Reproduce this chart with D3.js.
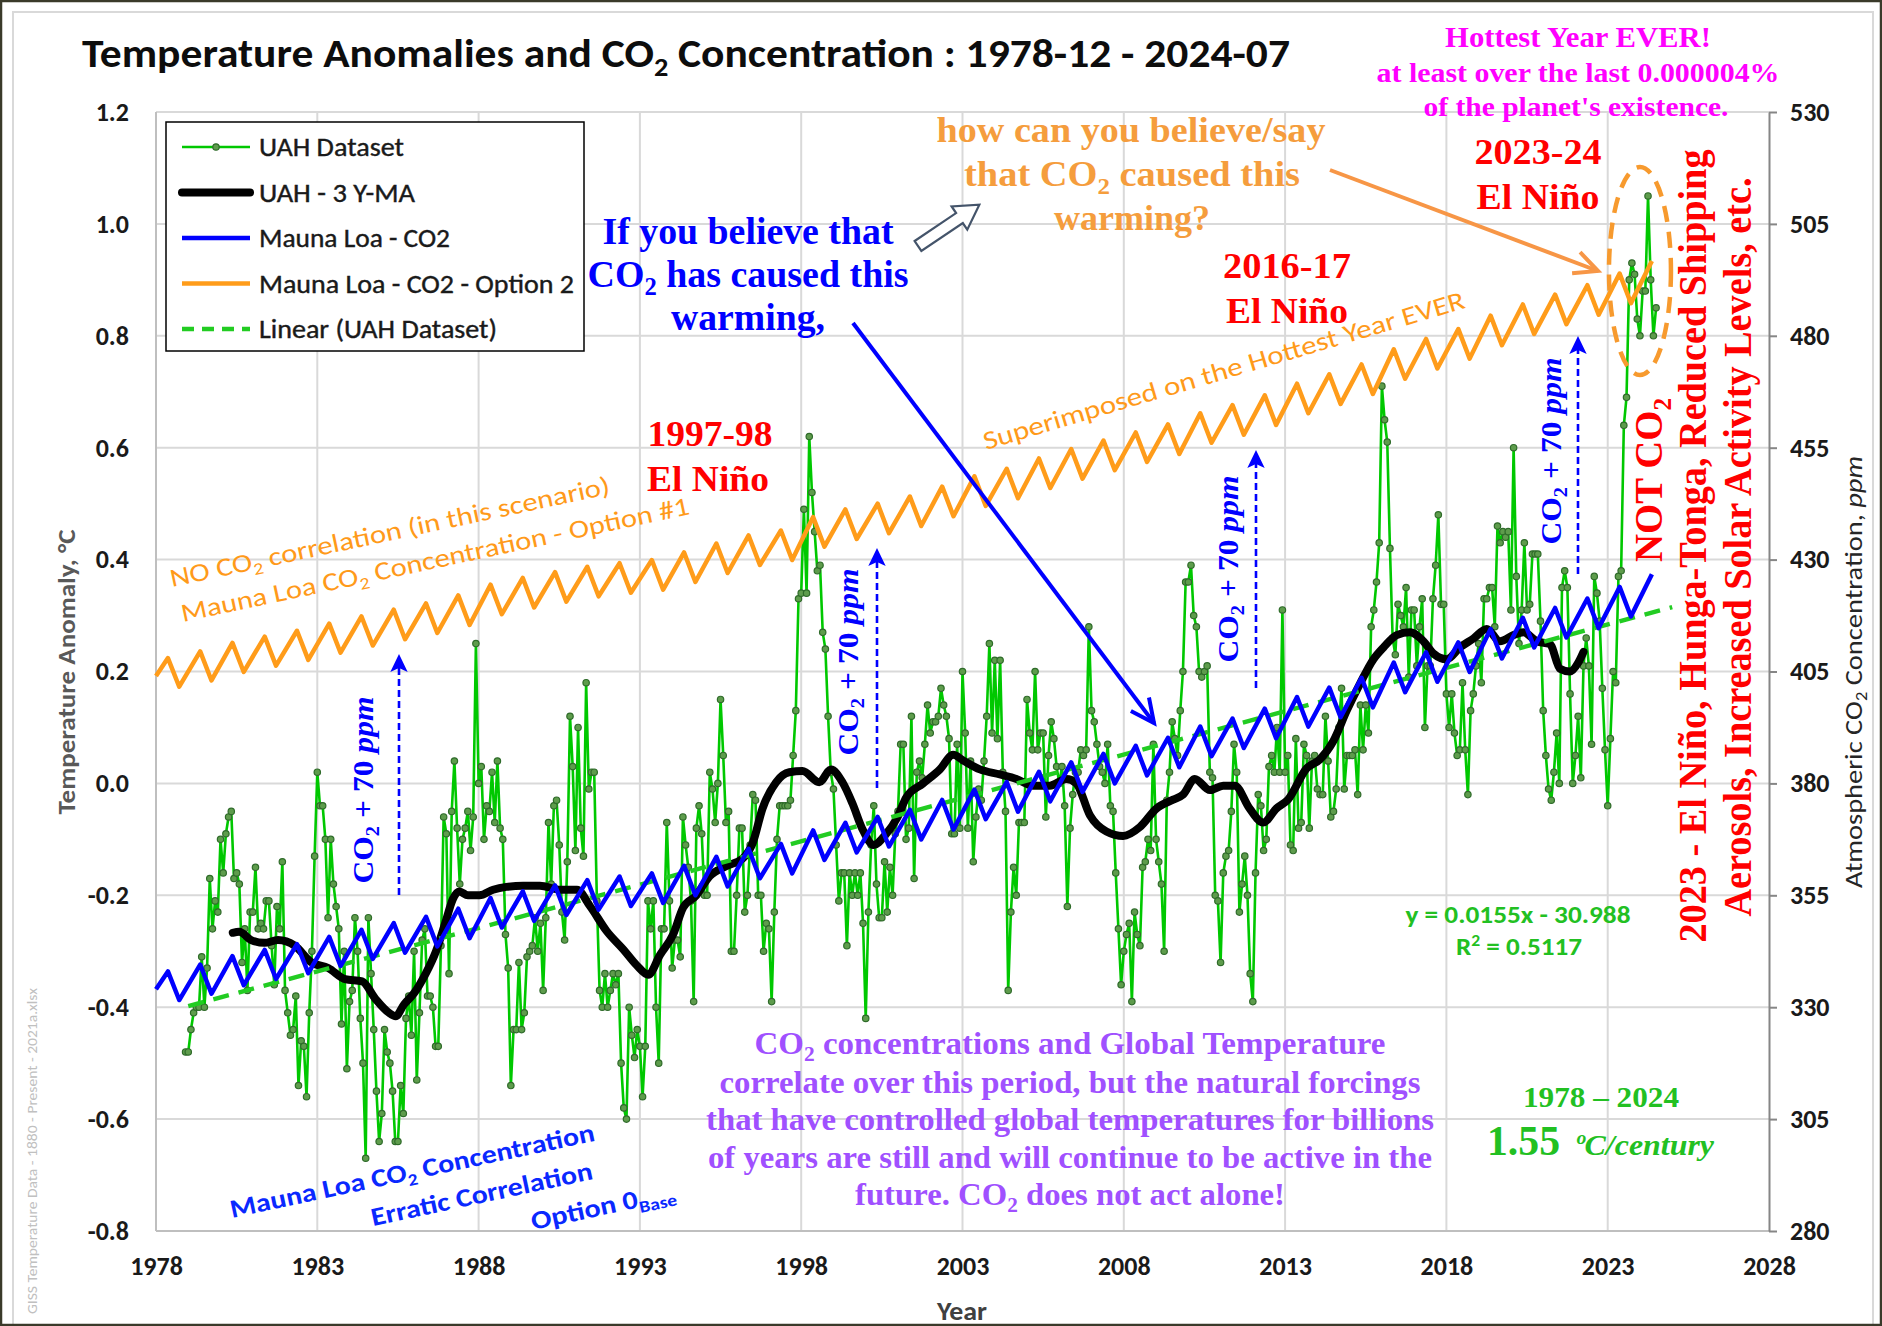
<!DOCTYPE html>
<html>
<head>
<meta charset="utf-8">
<script src="https://d3js.org/d3.v7.min.js"></script>
<style>
  html, body { margin: 0; padding: 0; background: #fff; }
  svg { display: block; }
</style>
</head>
<body>
<div id="chart"></div>
<script>
// ---------------- data ----------------
var xTicks  = [1978, 1983, 1988, 1993, 1998, 2003, 2008, 2013, 2018, 2023, 2028];
var yTicks  = [-0.8, -0.6, -0.4, -0.2, 0.0, 0.2, 0.4, 0.6, 0.8, 1.0, 1.2];
var y2Ticks = [280, 305, 330, 355, 380, 405, 430, 455, 480, 505, 530];

// UAH monthly anomalies, first value = 1978-12
var uahFirst = 1978 + 11 / 12;
var uahValues = [
  -0.48,
  -0.48, -0.44, -0.41, -0.40, -0.40, -0.31, -0.40, -0.33, -0.17, -0.26, -0.21, -0.23, // 1979
  -0.10, -0.16, -0.09, -0.06, -0.05, -0.17, -0.16, -0.18, -0.32, -0.26, -0.37, -0.23, // 1980
  -0.23, -0.15, -0.26, -0.25, -0.26, -0.21, -0.21, -0.29, -0.36, -0.22, -0.26, -0.14, // 1981
  -0.37, -0.41, -0.45, -0.44, -0.38, -0.54, -0.46, -0.47, -0.56, -0.41, -0.30, -0.13, // 1982
   0.02, -0.04, -0.04, -0.10, -0.24, -0.10, -0.18, -0.22, -0.26, -0.43, -0.30, -0.51, // 1983
  -0.39, -0.37, -0.24, -0.30, -0.42, -0.50, -0.67, -0.24, -0.34, -0.44, -0.55, -0.64, // 1984
  -0.59, -0.44, -0.48, -0.50, -0.55, -0.64, -0.64, -0.54, -0.59, -0.42, -0.38, -0.45, // 1985
  -0.30, -0.53, -0.41, -0.28, -0.26, -0.38, -0.38, -0.40, -0.47, -0.47, -0.29, -0.06, // 1986
  -0.09, -0.34, -0.05,  0.04, -0.08, -0.18, -0.10, -0.08, -0.05, -0.12, -0.06,  0.25, // 1987
   0.00,  0.03, -0.10, -0.04, -0.05,  0.02, -0.07,  0.04, -0.08, -0.10, -0.27, -0.33, // 1988
  -0.54, -0.44, -0.44, -0.32, -0.44, -0.41, -0.31, -0.30, -0.29, -0.24, -0.30, -0.25, // 1989
  -0.37, -0.24, -0.07, -0.18, -0.04, -0.03, -0.11, -0.23, -0.28, -0.14,  0.12,  0.03, // 1990
  -0.12,  0.10, -0.08, -0.13,  0.18, -0.01,  0.02,  0.02, -0.21, -0.37, -0.40, -0.34, // 1991
  -0.40, -0.37, -0.34, -0.36, -0.34, -0.50, -0.58, -0.60, -0.40, -0.45, -0.49, -0.44, // 1992
  -0.47, -0.56, -0.47, -0.21, -0.26, -0.21, -0.40, -0.50, -0.26, -0.26, -0.07, -0.21, // 1993
  -0.33, -0.28, -0.28, -0.31, -0.06, -0.11, -0.15, -0.21, -0.39, -0.08, -0.04, -0.09, // 1994
  -0.20, -0.20,  0.02, -0.01, -0.07,  0.00,  0.15,  0.05, -0.07, -0.05, -0.30, -0.30, // 1995
  -0.20, -0.08, -0.08, -0.23, -0.20, -0.11, -0.02, -0.03, -0.20, -0.20, -0.30, -0.25, // 1996
  -0.26, -0.39, -0.23, -0.10, -0.04, -0.04, -0.04, -0.04, -0.03,  0.05,  0.13,  0.33, // 1997
   0.34,  0.49,  0.34,  0.62,  0.52,  0.45,  0.38,  0.39,  0.27,  0.24,  0.12,  0.02, // 1998
  -0.01, -0.11, -0.21, -0.16, -0.16, -0.29, -0.16, -0.20, -0.16, -0.20, -0.16, -0.25, // 1999
  -0.42, -0.23, -0.11, -0.04, -0.18, -0.24, -0.24, -0.14, -0.23, -0.15, -0.20, -0.09, // 2000
  -0.05,  0.07,  0.07, -0.10, -0.08,  0.12, -0.17,  0.02,  0.04,  0.01,  0.07,  0.14, // 2001
   0.09,  0.11,  0.11,  0.12,  0.17,  0.14,  0.12,  0.08, -0.09, -0.09,  0.07, -0.08, // 2002
   0.20,  0.09, -0.08,  0.04, -0.14, -0.06, -0.01, -0.03,  0.04,  0.12,  0.25,  0.09, // 2003
   0.22,  0.08,  0.22,  0.02, -0.05, -0.37, -0.23, -0.15, -0.20, -0.07, -0.07, -0.07, // 2004
   0.15,  0.09,  0.06,  0.20,  0.06,  0.09,  0.09, -0.06,  0.05,  0.11,  0.08,  0.03, // 2005
   0.00,  0.03, -0.04, -0.22, -0.08, -0.02,  0.02,  0.02,  0.06,  0.05,  0.06,  0.28, // 2006
   0.13,  0.11,  0.07,  0.03,  0.02,  0.00,  0.07, -0.04, -0.05, -0.16, -0.26, -0.36, // 2007
  -0.30, -0.27, -0.25, -0.39, -0.23, -0.27, -0.29, -0.15, -0.14, -0.10, -0.12,  0.07, // 2008
  -0.10, -0.14, -0.18, -0.30, -0.03,  0.02,  0.11,  0.08,  0.05,  0.13,  0.20,  0.36, // 2009
   0.36,  0.39,  0.30,  0.28,  0.20,  0.19,  0.20,  0.21,  0.02,  0.01, -0.20, -0.21, // 2010
  -0.32, -0.16, -0.13, -0.12, -0.05,  0.07,  0.02, -0.23, -0.18, -0.13, -0.20, -0.34, // 2011
  -0.39, -0.16, -0.02, -0.04, -0.12, -0.10,  0.03,  0.05,  0.02,  0.10,  0.02,  0.31, // 2012
   0.02,  0.05, -0.11, -0.12,  0.08, -0.08, -0.07,  0.07,  0.05, -0.08,  0.04,  0.05, // 2013
  -0.01, -0.02, -0.02,  0.12,  0.04, -0.06, -0.05, -0.01,  0.10,  0.17, -0.01,  0.05, // 2014
   0.05,  0.05,  0.06, -0.02,  0.14,  0.06,  0.14,  0.09,  0.28,  0.31,  0.36,  0.43, // 2015
   0.71,  0.65,  0.61,  0.42,  0.26,  0.23,  0.32,  0.30,  0.28,  0.35,  0.19,  0.31, // 2016
   0.31,  0.21,  0.28,  0.33,  0.10,  0.21,  0.21,  0.33,  0.39,  0.48,  0.32,  0.32, // 2017
   0.16,  0.10,  0.16,  0.09,  0.05,  0.06,  0.18,  0.06, -0.02,  0.13,  0.16,  0.21, // 2018
   0.25,  0.18,  0.33,  0.33,  0.35,  0.35,  0.28,  0.46,  0.43,  0.45,  0.44,  0.45, // 2019
   0.31,  0.60,  0.37,  0.25,  0.31,  0.43,  0.31,  0.32,  0.41,  0.41,  0.41,  0.29, // 2020
   0.13,  0.05, -0.01, -0.03,  0.02,  0.09,  0.00,  0.35,  0.38,  0.35,  0.16,  0.00, // 2021
   0.05,  0.12,  0.01,  0.21,  0.26,  0.21,  0.07,  0.37,  0.34,  0.29,  0.17,  0.06, // 2022
  -0.04,  0.08,  0.20,  0.18,  0.37,  0.38,  0.64,  0.69,  0.90,  0.93,  0.91,  0.83, // 2023
   0.80,  0.88,  0.88,  1.05,  0.90,  0.80,  0.85                                      // 2024
];

// UAH 3-year moving average (black), read at irregular points
var maYears = [1980.38, 1980.58, 1980.95, 1981.36, 1981.78, 1982.30, 1982.82, 1983.34, 1983.86, 1984.39,
  1984.80, 1985.22, 1985.43, 1985.69, 1986.00, 1986.36, 1986.68, 1986.99, 1987.20, 1987.40, 1987.67,
  1988.03, 1988.45, 1988.86, 1989.38, 1989.90, 1990.53, 1991.05, 1991.46, 1991.97, 1992.49, 1992.90,
  1993.26, 1993.62, 1994.03, 1994.34, 1994.75, 1995.16, 1995.67, 1996.19, 1996.50, 1996.80, 1997.22,
  1997.63, 1998.04, 1998.56, 1998.92, 1999.28, 1999.59, 1999.90, 2000.25, 2000.61, 2000.97, 2001.26,
  2001.78, 2002.30, 2002.71, 2003.02, 2003.54, 2004.16, 2004.67, 2005.19, 2005.71, 2006.22, 2006.53,
  2006.95, 2007.46, 2007.98, 2008.50, 2009.01, 2009.53, 2009.84, 2010.20, 2010.67, 2011.08, 2011.44,
  2011.90, 2012.32, 2012.73, 2013.09, 2013.67, 2014.08, 2014.50, 2014.91, 2015.32, 2015.74, 2016.05,
  2016.46, 2016.87, 2017.29, 2017.60, 2018.01, 2018.42, 2018.84, 2019.25, 2019.66, 2020.08, 2020.39,
  2020.80, 2021.21, 2021.52, 2021.83, 2022.09, 2022.25];
var maValues = [-0.267, -0.265, -0.280, -0.285, -0.280, -0.290, -0.320, -0.330, -0.350, -0.354,
  -0.385, -0.410, -0.416, -0.395, -0.375, -0.340, -0.300, -0.245, -0.207, -0.193, -0.200,
  -0.200, -0.190, -0.185, -0.183, -0.183, -0.190, -0.190, -0.220, -0.264, -0.297, -0.325,
  -0.342, -0.307, -0.270, -0.222, -0.200, -0.166, -0.148, -0.134, -0.106, -0.045, 0.002,
  0.020, 0.022, 0.002, 0.025, 0.002, -0.036, -0.082, -0.110, -0.092, -0.062, -0.025,
  0.000, 0.025, 0.051, 0.041, 0.025, 0.016, 0.008, -0.004, -0.004, 0.008, 0.000,
  -0.057, -0.086, -0.094, -0.078, -0.045, -0.029, -0.020, 0.008, -0.012, -0.004, -0.004,
  -0.045, -0.070, -0.045, -0.029, 0.027, 0.043, 0.076, 0.130, 0.178, 0.222, 0.243,
  0.265, 0.270, 0.254, 0.232, 0.222, 0.243, 0.259, 0.276, 0.254, 0.265, 0.270,
  0.254, 0.249, 0.205, 0.200, 0.216, 0.235];

// Mauna Loa CO2 (ppm): value at 1978.0, then yearly May peaks and September troughs
var co2Years  = [1978, 1979, 1980, 1981, 1982, 1983, 1984, 1985, 1986, 1987, 1988, 1989, 1990, 1991, 1992, 1993,
  1994, 1995, 1996, 1997, 1998, 1999, 2000, 2001, 2002, 2003, 2004, 2005, 2006, 2007, 2008, 2009, 2010,
  2011, 2012, 2013, 2014, 2015, 2016, 2017, 2018, 2019, 2020, 2021, 2022, 2023, 2024];
var co2Start  = 334.0;
var co2Peak   = [338.0, 339.5, 341.4, 342.8, 344.1, 345.7, 347.3, 348.8, 350.2, 352.0, 354.4, 355.9, 357.2,
  358.4, 359.2, 359.9, 361.6, 363.6, 365.4, 366.5, 369.5, 371.2, 372.5, 374.1, 376.3, 378.6, 380.3,
  382.6, 384.7, 386.6, 388.4, 390.2, 392.7, 394.5, 396.7, 399.3, 401.4, 403.6, 407.0, 409.3, 411.5,
  414.5, 417.0, 419.2, 421.3, 423.9, 426.7];
var co2Trough = [331.6, 333.0, 334.9, 336.3, 337.6, 339.2, 340.8, 342.2, 343.6, 345.4, 347.8, 349.3, 350.6,
  351.8, 352.6, 353.3, 355.0, 357.0, 358.8, 359.9, 362.9, 364.6, 365.9, 367.5, 369.7, 372.0, 373.7,
  376.0, 378.1, 380.0, 381.8, 383.6, 386.1, 387.9, 390.1, 392.7, 394.8, 397.0, 400.4, 402.7, 404.9,
  407.9, 410.4, 412.6, 414.7, 417.3];
var optionOffset = 70;            // "CO2 + 70 ppm"

// linear trend of the UAH data (ends of the dashed line)
var trendYears  = [1979.0, 2025.0];
var trendValues = [-0.398, 0.315];

// ---------------- layout ----------------
var W = 1882, H = 1326;
var SANS = "Carlito, Lato, 'Open Sans', sans-serif";
var SERIF = "'Liberation Serif', 'Times New Roman', serif";

var x  = d3.scaleLinear().domain([1978, 2028]).range([156, 1769]);
var y  = d3.scaleLinear().domain([-0.8, 1.2]).range([1231, 112]);
var y2 = d3.scaleLinear().domain([280, 530]).range([1231, 112]);

var svg = d3.select("#chart").append("svg").attr("width", W).attr("height", H);

svg.append("rect").attr("width", W).attr("height", H).attr("fill", "#fff");
svg.append("rect").attr("x", 13).attr("y", 12).attr("width", 1860).attr("height", 1330)
  .attr("fill", "none").attr("stroke", "#d9d9d9").attr("stroke-width", 2);
svg.append("rect").attr("x", 1).attr("y", 1).attr("width", W - 2).attr("height", H - 2)
  .attr("fill", "none").attr("stroke", "#3a3a2a").attr("stroke-width", 2.5);

// grid
var grid = svg.append("g");
grid.selectAll("line.v").data(xTicks.slice(1, -1)).enter().append("line")
  .attr("x1", d => x(d)).attr("x2", d => x(d)).attr("y1", y(1.2)).attr("y2", y(-0.8))
  .attr("stroke", "#d9d9d9").attr("stroke-width", 2);
grid.selectAll("line.h").data(yTicks.slice(1)).enter().append("line")
  .attr("x1", x(1978)).attr("x2", x(2028)).attr("y1", d => y(d)).attr("y2", d => y(d))
  .attr("stroke", "#d9d9d9").attr("stroke-width", 2);
grid.append("line").attr("x1", x(1978)).attr("x2", x(1978)).attr("y1", y(1.2)).attr("y2", y(-0.8))
  .attr("stroke", "#bfbfbf").attr("stroke-width", 2);
grid.append("line").attr("x1", x(1978)).attr("x2", x(2028)).attr("y1", y(-0.8)).attr("y2", y(-0.8))
  .attr("stroke", "#bfbfbf").attr("stroke-width", 2);

// axes
function styleAxis(g) {
  g.attr("font-family", SANS).attr("font-size", 26).attr("font-weight", "bold");
  g.selectAll("text").attr("fill", "#1a1a1a");
}
var gx = svg.append("g").attr("transform", "translate(0," + y(-0.8) + ")")
  .call(d3.axisBottom(x).tickValues(xTicks).tickFormat(d3.format("d")).tickSize(0).tickPadding(26));
gx.select(".domain").remove(); styleAxis(gx);

var gy = svg.append("g").attr("transform", "translate(" + x(1978) + ",0)")
  .call(d3.axisLeft(y).tickValues(yTicks).tickFormat(d => d.toFixed(1)).tickSize(0).tickPadding(27));
gy.select(".domain").remove(); styleAxis(gy);

var gy2 = svg.append("g").attr("transform", "translate(" + x(2028) + ",0)")
  .call(d3.axisRight(y2).tickValues(y2Ticks).tickSizeInner(8).tickSizeOuter(0).tickPadding(13));
styleAxis(gy2);
gy2.select(".domain").attr("stroke", "#868686").attr("stroke-width", 2);
gy2.selectAll(".tick line").attr("stroke", "#868686").attr("stroke-width", 2);

// ---------------- rich text helper ----------------
// _{..} subscript, ^{..} superscript, *..* italic
function rich(sel, str, fs) {
  var parts = str.split(/(_\{[^}]*\}|\^\{[^}]*\}|\*[^*]*\*)/).filter(s => s.length);
  var shift = 0;
  parts.forEach(function (p) {
    var t = sel.append("tspan"), txt = p, target = 0, size = null, it = false;
    if (p.indexOf("_{") === 0) { txt = p.slice(2, -1); target = fs * 0.22; size = fs * 0.65; }
    else if (p.indexOf("^{") === 0) { txt = p.slice(2, -1); target = -fs * 0.36; size = fs * 0.65; }
    else if (p.charAt(0) === "*") { txt = p.slice(1, -1); it = true; }
    t.text(txt);
    if (target - shift !== 0) t.attr("dy", target - shift);
    shift = target;
    if (size) t.attr("font-size", size);
    if (it) t.attr("font-style", "italic");
  });
}
function label(o) {
  var t = svg.append("text")
    .attr("transform", "translate(" + o.x + "," + o.y + ") rotate(" + (o.rot || 0) + ")")
    .attr("text-anchor", o.anchor || "middle")
    .attr("font-family", o.font || SERIF)
    .attr("font-size", o.size)
    .attr("font-weight", o.weight || "bold")
    .attr("font-style", o.style || "normal")
    .attr("fill", o.color);
  if (o.len) t.attr("textLength", o.len).attr("lengthAdjust", "spacingAndGlyphs");
  rich(t, o.text, o.size);
  return t;
}

// axis titles
label({x: 82, y: 67, anchor: "start", font: SANS, size: 40, color: "#0d0d0d", len: 1208,
  text: "Temperature Anomalies and CO_{2} Concentration : 1978-12 - 2024-07"});
label({x: 962, y: 1320, font: SANS, size: 26, color: "#404040", len: 50, text: "Year"});
label({x: 75, y: 672, rot: -90, font: SANS, size: 24, color: "#595959", len: 285,
  text: "Temperature Anomaly, °C"});
label({x: 1862, y: 672, rot: -90, font: SANS, size: 24, weight: "normal", color: "#262626", len: 432,
  text: "Atmospheric CO_{2} Concentration, *ppm*"});
label({x: 37, y: 988, rot: -90, anchor: "end", font: SANS, size: 14, weight: "normal", color: "#c0c0c0", len: 326,
  text: "GISS Temperature Data - 1880 - Present - 2021a.xlsx"});

// ---------------- series ----------------
var uahPts = uahValues.map((v, i) => ({t: uahFirst + i / 12, v: v}));
var co2Pts = [{t: 1978.0, p: co2Start}];
co2Years.forEach(function (yr, k) {
  co2Pts.push({t: yr + 0.37, p: co2Peak[k]});
  if (k < co2Trough.length) co2Pts.push({t: yr + 0.72, p: co2Trough[k]});
});
var maPts = maYears.map((t, i) => ({t: t, v: maValues[i]}));
var trendPts = trendYears.map((t, i) => ({t: t, v: trendValues[i]}));

var lineT = d3.line().x(d => x(d.t)).y(d => y(d.v));
var lineC = d3.line().x(d => x(d.t)).y(d => y2(d.p));
var lineO = d3.line().x(d => x(d.t)).y(d => y2(d.p + optionOffset));

svg.append("path").datum(uahPts).attr("d", lineT).attr("fill", "none")
  .attr("stroke", "#00c800").attr("stroke-width", 2.6).attr("stroke-linejoin", "round");
svg.append("g").selectAll("circle").data(uahPts).enter().append("circle")
  .attr("cx", d => x(d.t)).attr("cy", d => y(d.v)).attr("r", 3.2)
  .attr("fill", "#5e9c4c").attr("stroke", "#2f6b2a").attr("stroke-width", 1.2);

svg.append("path").datum(maPts).attr("d", lineT.curve(d3.curveMonotoneX)).attr("fill", "none")
  .attr("stroke", "#000").attr("stroke-width", 8).attr("stroke-linecap", "round").attr("stroke-linejoin", "round");
lineT.curve(d3.curveLinear);

svg.append("path").datum(trendPts).attr("d", lineT).attr("fill", "none")
  .attr("stroke", "#22cc22").attr("stroke-width", 4.5).attr("stroke-dasharray", "16,10");

svg.append("path").datum(co2Pts).attr("d", lineC).attr("fill", "none")
  .attr("stroke", "#0000ff").attr("stroke-width", 4.5).attr("stroke-linejoin", "round");
svg.append("path").datum(co2Pts).attr("d", lineO).attr("fill", "none")
  .attr("stroke", "#ff9c1a").attr("stroke-width", 4.5).attr("stroke-linejoin", "round");

// ---------------- legend ----------------
var lg = svg.append("g");
lg.append("rect").attr("x", 166).attr("y", 122).attr("width", 418).attr("height", 229)
  .attr("fill", "#fff").attr("stroke", "#000").attr("stroke-width", 1.5);
var legendItems = [
  {name: "UAH Dataset", len: 145, color: "#00c800", w: 2.6, dash: null, marker: true},
  {name: "UAH - 3 Y-MA", len: 156, color: "#000", w: 8, dash: null},
  {name: "Mauna Loa - CO2", len: 191, color: "#0000ff", w: 4.5, dash: null},
  {name: "Mauna Loa - CO2 - Option 2", len: 315, color: "#ff9c1a", w: 4.5, dash: null},
  {name: "Linear (UAH Dataset)", len: 238, color: "#22cc22", w: 4.5, dash: "12,8"}
];
legendItems.forEach(function (it, i) {
  var cy = 147 + i * 45.5;
  lg.append("line").attr("x1", 182).attr("x2", 250).attr("y1", cy).attr("y2", cy)
    .attr("stroke", it.color).attr("stroke-width", it.w).attr("stroke-linecap", it.w > 6 ? "round" : "butt")
    .attr("stroke-dasharray", it.dash);
  if (it.marker) lg.append("circle").attr("cx", 216).attr("cy", cy).attr("r", 3.2)
    .attr("fill", "#5e9c4c").attr("stroke", "#2f6b2a").attr("stroke-width", 1.2);
  lg.append("text").attr("x", 259).attr("y", cy + 9).attr("font-family", SANS).attr("font-size", 26)
    .attr("fill", "#1a1a1a").attr("stroke", "#1a1a1a").attr("stroke-width", 0.4)
    .attr("textLength", it.len).attr("lengthAdjust", "spacingAndGlyphs")
    .text(it.name);
});

// ---------------- arrows ----------------
function arrow(x1, y1, x2, y2, color, w, head, open, dash) {
  var a = Math.atan2(y2 - y1, x2 - x1), sp = 0.45;
  svg.append("line").attr("x1", x1).attr("y1", y1)
    .attr("x2", open ? x2 : x2 - Math.cos(a) * head * 0.7).attr("y2", open ? y2 : y2 - Math.sin(a) * head * 0.7)
    .attr("stroke", color).attr("stroke-width", w).attr("stroke-dasharray", dash || null);
  var p1 = [x2 - head * Math.cos(a - sp), y2 - head * Math.sin(a - sp)];
  var p2 = [x2 - head * Math.cos(a + sp), y2 - head * Math.sin(a + sp)];
  if (open) {
    svg.append("path").attr("d", "M" + p1 + "L" + x2 + "," + y2 + "L" + p2)
      .attr("fill", "none").attr("stroke", color).attr("stroke-width", w);
  } else {
    var m = [x2 - head * 0.7 * Math.cos(a), y2 - head * 0.7 * Math.sin(a)];
    svg.append("path").attr("d", "M" + p1 + "L" + x2 + "," + y2 + "L" + p2 + "L" + m + "Z").attr("fill", color);
  }
}
arrow(1330, 170, 1598, 271, "#f79646", 4, 26, true);
arrow(853, 323, 1154, 723, "#0000ff", 4, 26, true);
arrow(399, 895, 399, 654, "#0000ff", 2.6, 20, false, "7,4");
arrow(877, 788, 877, 548, "#0000ff", 2.6, 20, false, "7,4");
arrow(1256, 688, 1256, 450, "#0000ff", 2.6, 20, false, "7,4");
arrow(1578, 574, 1578, 336, "#0000ff", 2.6, 20, false, "7,4");

// hollow block arrow
svg.append("path").attr("transform", "translate(918,246) rotate(-34)")
  .attr("d", "M0,-6L50,-6L50,-14L74,0L50,14L50,6L0,6Z")
  .attr("fill", "#fff").attr("stroke", "#44546a").attr("stroke-width", 2.2);

// dashed ellipse around 2023-24
svg.append("ellipse").attr("cx", x(2024.0)).attr("cy", 271).attr("rx", 31).attr("ry", 104)
  .attr("fill", "none").attr("stroke", "#f79a2e").attr("stroke-width", 4.5).attr("stroke-dasharray", "16,10");

// ---------------- annotations ----------------
var MAG = "#ff00ff", ORQ = "#f59d3d", ORL = "#ff9a1a", BLU = "#0000ff", RED = "#ff0000",
    PUR = "#a050ff", GRN = "#22c022";

label({x: 1578, y: 47, size: 29, color: MAG, len: 266, text: "Hottest Year EVER!"});
label({x: 1578, y: 82, size: 27, color: MAG, len: 403, text: "at least over the last 0.000004%"});
label({x: 1576, y: 116, size: 27, color: MAG, len: 305, text: "of the planet's existence."});

label({x: 1131, y: 142, size: 36, color: ORQ, len: 389, text: "how can you believe/say"});
label({x: 1132, y: 186, size: 36, color: ORQ, len: 336, text: "that CO_{2} caused this"});
label({x: 1132, y: 230, size: 36, color: ORQ, len: 156, text: "warming?"});

label({x: 748, y: 244, size: 38, color: BLU, len: 291, text: "If you believe that"});
label({x: 748, y: 287, size: 38, color: BLU, len: 321, text: "CO_{2} has caused this"});
label({x: 748, y: 330, size: 38, color: BLU, len: 154, text: "warming,"});

label({x: 710, y: 446, size: 36, color: RED, len: 125, text: "1997-98"});
label({x: 708, y: 491, size: 36, color: RED, len: 122, text: "El Niño"});
label({x: 1287, y: 278, size: 36, color: RED, len: 128, text: "2016-17"});
label({x: 1287, y: 323, size: 36, color: RED, len: 122, text: "El Niño"});
label({x: 1538, y: 164, size: 36, color: RED, len: 127, text: "2023-24"});
label({x: 1538, y: 209, size: 36, color: RED, len: 123, text: "El Niño"});

label({x: 986, y: 450, rot: -16.5, anchor: "start", font: SANS, weight: "normal", size: 26, color: ORL, len: 501,
  text: "Superimposed on the Hottest Year EVER"});
label({x: 172, y: 587, rot: -12, anchor: "start", font: SANS, weight: "normal", size: 26, color: ORL, len: 449,
  text: "NO CO_{2} correlation (in this scenario)"});
label({x: 183, y: 622, rot: -12, anchor: "start", font: SANS, weight: "normal", size: 26, color: ORL, len: 519,
  text: "Mauna Loa CO_{2} Concentration - Option #1"});

label({x: 232, y: 1218, rot: -12, anchor: "start", font: SANS, size: 26, color: "#0a28ff", len: 372,
  text: "Mauna Loa CO_{2} Concentration"});
label({x: 373, y: 1226, rot: -12, anchor: "start", font: SANS, size: 26, color: "#0a28ff", len: 226,
  text: "Erratic Correlation"});
label({x: 533, y: 1230, rot: -12, anchor: "start", font: SANS, size: 26, color: "#0a28ff", len: 147,
  text: "Option 0_{Base}"});

[[373, 790], [858, 662], [1238, 569], [1561, 451]].forEach(function (p) {
  label({x: p[0], y: p[1], rot: -90, size: 29, color: BLU, len: 187, text: "CO_{2} + 70 *ppm*"});
});

label({x: 1662, y: 480, rot: -90, size: 40, color: RED, len: 164, text: "NOT CO_{2}"});
label({x: 1706, y: 546, rot: -90, size: 40, color: RED, len: 793,
  text: "2023 - El Niño, Hunga-Tonga, Reduced Shipping"});
label({x: 1751, y: 547, rot: -90, size: 40, color: RED, len: 739,
  text: "Aerosols, Increased Solar Activity Levels, etc."});

label({x: 1518, y: 923, font: SANS, size: 24, color: GRN, len: 225, text: "y = 0.0155x - 30.988"});
label({x: 1519, y: 955, font: SANS, size: 24, color: GRN, len: 126, text: "R^{2} = 0.5117"});

label({x: 1601, y: 1107, size: 30, color: GRN, len: 156, text: "1978 – 2024"});
label({x: 1487, y: 1155, anchor: "start", size: 42, color: GRN, len: 73, text: "1.55"});
label({x: 1575, y: 1155, anchor: "start", size: 30, style: "italic", color: GRN, len: 139, text: "ºC/century"});

var purple = [
  ["CO_{2} concentrations and Global Temperature", 1054, 631],
  ["correlate over this period, but the natural forcings", 1093, 701],
  ["that have controlled global temperatures for billions", 1130, 728],
  ["of years are still and will continue to be active in the", 1168, 724],
  ["future. CO_{2} does not act alone!", 1205, 430]
];
purple.forEach(function (l) {
  label({x: 1070, y: l[1], size: 32, color: PUR, len: l[2], text: l[0]});
});
</script>
</body>
</html>
